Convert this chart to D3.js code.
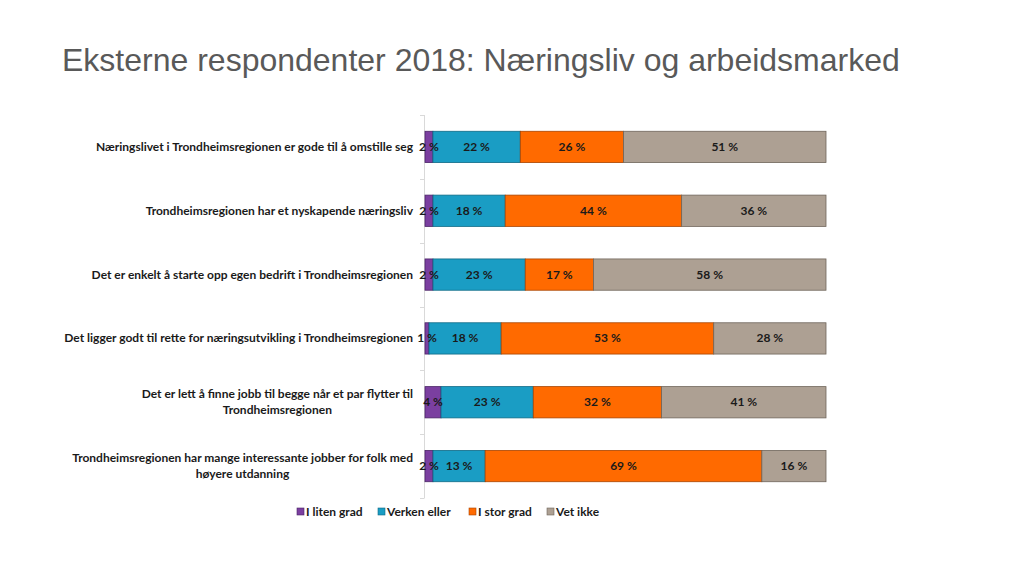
<!DOCTYPE html>
<html><head><meta charset="utf-8">
<script src="https://cdn.jsdelivr.net/npm/d3@7"></script>
<style>body{margin:0;background:#fff}svg{display:block}</style>
</head><body>
<svg id="c" width="1024" height="576"></svg>
<script>
const categories = [
  ["Næringslivet i Trondheimsregionen er gode til å omstille seg"],
  ["Trondheimsregionen har et nyskapende næringsliv"],
  ["Det er enkelt å starte opp egen bedrift i Trondheimsregionen"],
  ["Det ligger godt til rette for næringsutvikling i Trondheimsregionen"],
  ["Det er lett å finne jobb til begge når et par flytter til", "Trondheimsregionen"],
  ["Trondheimsregionen har mange interessante jobber for folk med", "høyere utdanning"]
];
const seriesNames = ["I liten grad", "Verken eller", "I stor grad", "Vet ikke"];
const liten   = [2, 2, 2, 1, 4, 2];
const verken  = [22, 18, 23, 18, 23, 13];
const stor    = [26, 44, 17, 53, 32, 69];
const vetikke = [51, 36, 58, 28, 41, 16];
const colors = ["#7B3FA0", "#1A9DC4", "#FF6A00", "#ADA093"];
const strokes = ["#4A2466", "#0F6A86", "#A84400", "#6F655B"];

const svg = d3.select("#c");
const font = "Lato, 'Open Sans', sans-serif";
const fs = 12;

svg.append("text").attr("x", 62).attr("y", 71)
  .attr("font-family", "'Liberation Sans', Arial, sans-serif")
  .attr("font-size", 32).attr("fill", "#595959")
  .text("Eksterne respondenter 2018: Næringsliv og arbeidsmarked");

const keys = seriesNames;
const rows = categories.map((c, i) => ({
  key: c.join(" "),
  [keys[0]]: liten[i], [keys[1]]: verken[i], [keys[2]]: stor[i], [keys[3]]: vetikke[i]
}));
const stacked = d3.stack().keys(keys).offset(d3.stackOffsetExpand)(rows);

const x = d3.scaleLinear().domain([0, 1]).range([425, 826]);
const y = d3.scaleBand().domain(rows.map(d => d.key)).range([115, 498])
  .paddingInner(0.51).paddingOuter(0.255);

const step = y.step();
const boundaries = d3.range(categories.length + 1).map(i => 115 + i * step);
svg.append("line").attr("x1", 424.5).attr("x2", 424.5).attr("y1", 115).attr("y2", 498)
  .attr("stroke", "#D9D9D9").attr("stroke-width", 1);
svg.selectAll(".tk").data(boundaries).join("line")
  .attr("x1", 420).attr("x2", 424.5)
  .attr("y1", d => Math.round(d) + 0.5).attr("y2", d => Math.round(d) + 0.5)
  .attr("stroke", "#D9D9D9");

const segs = stacked.flatMap((s, si) => s.map(d => ({d, si, key: d.data.key, v: d.data[keys[si]]})));

svg.append("g").selectAll("rect").data(segs).join("rect")
  .attr("x", p => x(p.d[0]))
  .attr("y", p => y(p.key))
  .attr("width", p => x(p.d[1]) - x(p.d[0]))
  .attr("height", y.bandwidth())
  .attr("fill", p => colors[p.si])
  .attr("stroke", p => strokes[p.si]).attr("stroke-width", 0.8);

svg.append("g").selectAll("text").data(segs).join("text")
  .attr("x", p => (x(p.d[0]) + x(p.d[1])) / 2)
  .attr("y", p => y(p.key) + y.bandwidth() / 2 + 4)
  .attr("text-anchor", "middle")
  .attr("font-family", font).attr("font-weight", "bold").attr("font-size", fs)
  .attr("fill", "#1a1a1a")
  .text(p => p.v + " %");

categories.forEach((lines, i) => {
  const key = rows[i].key;
  const cy = y(key) + y.bandwidth() / 2;
  const lh = 16;
  const top = cy - (lines.length - 1) * lh / 2 + 4;
  const first = svg.append("text").attr("x", 413).attr("y", top)
    .attr("text-anchor", "end")
    .attr("font-family", font).attr("font-weight", "bold").attr("font-size", fs)
    .attr("fill", "#1a1a1a").text(lines[0]);
  const w = first.node().getComputedTextLength();
  for (let j = 1; j < lines.length; j++) {
    svg.append("text").attr("x", 413 - w / 2).attr("y", top + j * lh)
      .attr("text-anchor", "middle")
      .attr("font-family", font).attr("font-weight", "bold").attr("font-size", fs)
      .attr("fill", "#1a1a1a").text(lines[j]);
  }
});

const legX = [297, 378, 469, 547];
const leg = svg.selectAll(".leg").data(seriesNames).join("g")
  .attr("transform", (d, i) => `translate(${legX[i]},512)`);
leg.append("rect").attr("x", 0).attr("y", -4).attr("width", 7).attr("height", 7)
  .attr("fill", (d, i) => colors[i]).attr("stroke", (d, i) => strokes[i]).attr("stroke-width", 0.6);
leg.append("text").attr("x", 9).attr("y", 4)
  .attr("font-family", font).attr("font-weight", "bold").attr("font-size", fs)
  .attr("fill", "#1a1a1a").text(d => d);
</script>
</body></html>
